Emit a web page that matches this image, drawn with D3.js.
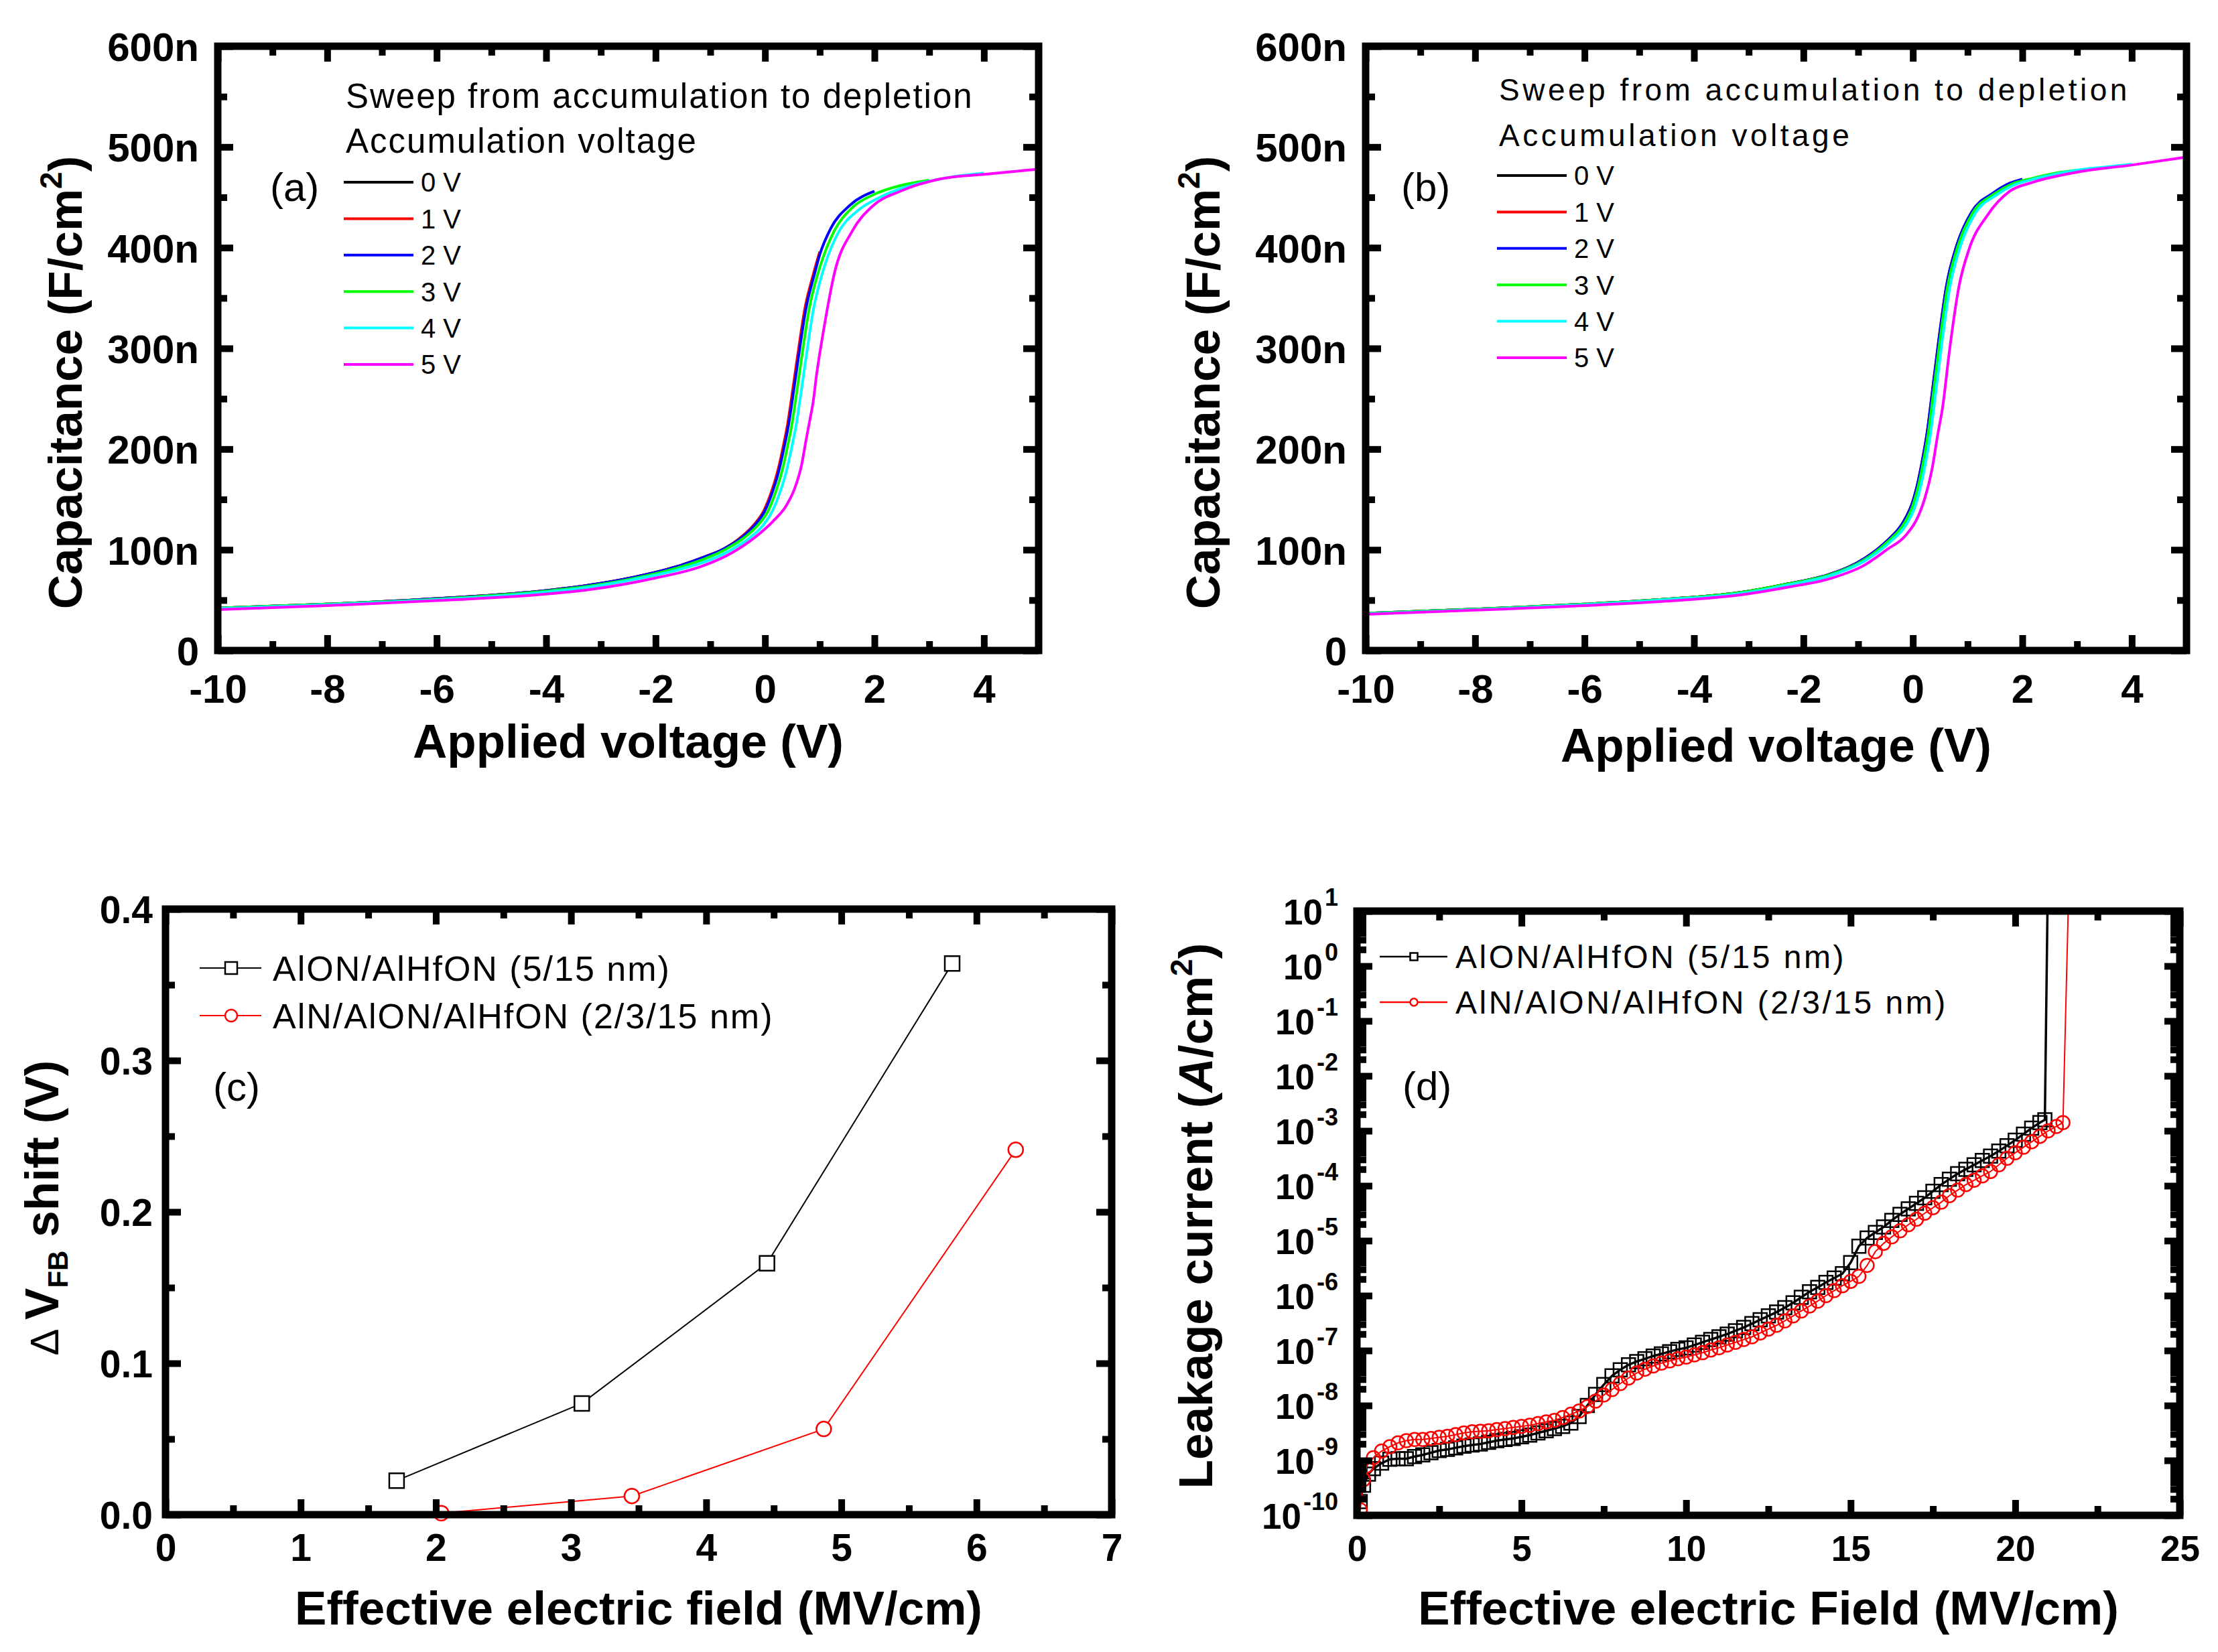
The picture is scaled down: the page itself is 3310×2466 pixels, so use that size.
<!DOCTYPE html>
<html>
<head>
<meta charset="utf-8">
<script src="https://cdn.jsdelivr.net/npm/d3@7/dist/d3.min.js"></script>
<style>
  html, body { margin: 0; padding: 0; background: #fff; }
  svg { display: block; }
</style>
</head>
<body>
<svg id="fig" width="3310" height="2466"></svg>
<script>
const FONT = '"Liberation Sans", Arial, sans-serif'

// ---- shared legend data
const accColors = ['#000000', '#ff0000', '#0000ff', '#00ff00', '#00ffff', '#ff00ff']
const accLabels = ['0 V', '1 V', '2 V', '3 V', '4 V', '5 V']

// ---- panel (a): C (nF/cm2) vs applied voltage, one sweep per accumulation voltage
const aVolt0 = [-10, -8, -6, -4, -3.2, -2.4, -1.6, -1.1, -0.75, -0.43, -0.18, 0]
const aCap0 = [42, 46, 51.5, 59.5, 65, 72.7, 83.5, 93, 101, 112, 125, 139]
const aVolt1 = [-10, -8, -6, -4, -3.2, -2.4, -1.6, -1.1, -0.75, -0.45, -0.2, -0.02, 0.12, 0.24, 0.33, 0.41, 0.48, 0.58, 0.73, 0.88, 1.0]
const aCap1 = [42, 46, 51.5, 59.5, 65, 72.7, 83.5, 93, 101, 112, 125, 139, 158, 180, 202, 224, 249, 287, 340, 373, 396]
const aVolt2 = [-10, -8, -6, -4, -3.2, -2.4, -1.6, -1.1, -0.75, -0.43, -0.18, 0, 0.14, 0.26, 0.35, 0.43, 0.5, 0.6, 0.75, 0.9, 1.0, 1.2, 1.55, 2.0]
const aCap2 = [42, 46, 51.5, 59.5, 65, 72.7, 83.5, 93, 101, 112, 125, 139, 158, 180, 202, 224, 249, 287, 340, 373, 393, 419, 442, 456]
const aVolt3 = [-10, -8, -6, -4, -3.2, -2.4, -1.6, -1.1, -0.7, -0.38, -0.12, 0.06, 0.2, 0.32, 0.41, 0.49, 0.56, 0.66, 0.81, 0.96, 1.06, 1.26, 1.6, 2.0, 2.5, 3.0]
const aCap3 = [42, 46, 51, 59, 64, 71.5, 82, 91, 101, 112, 125, 139, 158, 180, 202, 224, 249, 287, 340, 373, 390, 416, 440, 453, 462, 467]
const aVolt4 = [-10, -8, -6, -4, -3.2, -2.4, -1.6, -1.0, -0.6, -0.3, -0.04, 0.14, 0.28, 0.4, 0.49, 0.57, 0.64, 0.74, 0.89, 1.04, 1.14, 1.34, 1.7, 2.1, 2.5, 3.0, 3.5, 4.0]
const aCap4 = [41.5, 45.5, 50.5, 58, 63, 70.5, 80, 90, 100.5, 111, 124, 139, 158, 180, 202, 224, 249, 287, 340, 373, 390, 415, 437, 450, 459, 466, 471, 474]
const aVolt5 = [-10, -8, -6, -4, -3.2, -2, -1.16, -0.59, -0.18, 0.14, 0.39, 0.55, 0.67, 0.75, 0.82, 0.88, 0.94, 1.08, 1.27, 1.6, 1.96, 2.47, 3.18, 4.13, 5.0]
const aCap5 = [40.5, 44.5, 49.5, 56, 60.5, 72, 83.5, 97.5, 112.5, 128, 144, 162, 184.6, 209, 229, 247, 273, 321, 375, 417, 441, 456, 468, 473.5, 478]

// ---- panel (b)
const bVolt0 = [-10, -8, -6, -4.5, -3.1, -2.3, -1.5, -0.88, -0.47, -0.18, -0.02, 0]
const bCap0 = [37, 41, 46, 51, 58, 66, 76, 91.5, 109, 127, 145, 148]
const bVolt1 = [-10, -8, -6, -4.5, -3.1, -2.3, -1.5, -0.88, -0.47, -0.18, -0.02, 0.1, 0.18, 0.27, 0.33, 0.47, 0.61, 0.8, 1.0]
const bCap1 = [37, 41, 46, 51, 58, 66, 76, 91.5, 109, 127, 145, 169, 191, 220, 246, 307, 361, 402, 428]
const bVolt2 = [-10, -8, -6, -4.5, -3.1, -2.3, -1.5, -0.88, -0.47, -0.18, -0.02, 0.1, 0.18, 0.27, 0.33, 0.47, 0.61, 0.8, 1.08, 1.46, 1.77, 2.0]
const bCap2 = [37, 41, 46, 51, 58, 66, 76, 91.5, 109, 127, 145, 169, 191, 220, 246, 307, 361, 402, 436, 454, 464, 468]
const bVolt3 = [-10, -8, -6, -4.5, -3.1, -2.3, -1.5, -0.86, -0.45, -0.16, 0, 0.12, 0.2, 0.29, 0.35, 0.49, 0.63, 0.82, 1.1, 1.48, 1.8, 2.2, 2.6, 3.0]
const bCap3 = [37, 41, 46, 51, 58, 66, 75.5, 91, 108.5, 126, 144, 168, 190, 219, 245, 306, 360, 401, 435, 453, 463, 469, 474, 477]
const bVolt4 = [-10, -8, -6, -4.5, -3.1, -2.3, -1.5, -0.85, -0.42, -0.12, 0.04, 0.16, 0.24, 0.33, 0.39, 0.53, 0.67, 0.86, 1.14, 1.52, 1.84, 2.2, 2.6, 3.0, 3.5, 4.0]
const bCap4 = [36.5, 40.5, 45.5, 50.5, 57, 65, 74.5, 90, 107.5, 125, 143, 167, 189, 218, 244, 305, 359, 400, 434, 452, 462, 468, 473, 477, 480, 483]
const bVolt5 = [-10, -8, -6, -4.5, -3.1, -2.3, -1.5, -0.88, -0.47, -0.14, 0.1, 0.22, 0.35, 0.45, 0.55, 0.66, 0.84, 1.03, 1.36, 1.77, 2.2, 3, 4, 5]
const bCap5 = [36, 40, 44.5, 49, 55.6, 62.7, 71.6, 84.9, 100.4, 113.7, 133.6, 151.4, 180, 213, 244, 294, 361, 399, 432, 456, 465, 475, 482, 490]

// ---- panel (c): flat-band shift vs stress field
const cSeriesNames = ['AlON/AlHfON (5/15 nm)', 'AlN/AlON/AlHfON (2/3/15 nm)']
const cFieldA = [1.71, 3.08, 4.45, 5.82]
const cShiftA = [0.0225, 0.0735, 0.166, 0.364]
const cFieldB = [2.04, 3.45, 4.87, 6.29]
const cShiftB = [0.001, 0.0123, 0.0566, 0.241]

// ---- panel (d): leakage current, log10(J)
const dFieldA = [0.1, 0.2, 0.35, 0.5, 0.75, 1, 1.25, 1.5, 1.75, 2, 2.25, 2.5, 2.75, 3, 3.25, 3.5, 3.75, 4, 4.25, 4.5,
  4.75, 5, 5.25, 5.5, 5.75, 6, 6.25, 6.5, 6.75, 7, 7.25, 7.5, 7.75, 8, 8.25, 8.5, 8.75, 9, 9.25, 9.5,
  9.75, 10, 10.25, 10.5, 10.75, 11, 11.25, 11.5, 11.75, 12, 12.25, 12.5, 12.75, 13, 13.25, 13.5, 13.75, 14, 14.25, 14.5,
  14.75, 15, 15.25, 15.5, 15.75, 16, 16.25, 16.5, 16.75, 17, 17.25, 17.5, 17.75, 18, 18.25, 18.5, 18.75, 19, 19.25, 19.5,
  19.75, 20, 20.25, 20.5, 20.75, 20.9, 21.0]
const dLogJA = [-9.75, -9.45, -9.25, -9.15, -9.05, -8.98, -8.97, -8.97, -8.93, -8.9, -8.86, -8.82, -8.8, -8.77, -8.74, -8.72, -8.7, -8.67, -8.64, -8.62,
  -8.6, -8.57, -8.54, -8.5, -8.46, -8.42, -8.38, -8.32, -8.2, -8.0, -7.8, -7.62, -7.46, -7.35, -7.26, -7.2, -7.15, -7.1, -7.06, -7.02,
  -6.98, -6.95, -6.9, -6.85, -6.8, -6.75, -6.7, -6.64, -6.58, -6.51, -6.44, -6.37, -6.3, -6.22, -6.13, -6.03, -5.93, -5.85, -5.76, -5.68,
  -5.6, -5.4, -5.1, -4.95, -4.85, -4.75, -4.63, -4.52, -4.42, -4.32, -4.22, -4.1, -3.98, -3.88, -3.78, -3.7, -3.62, -3.54, -3.46, -3.37,
  -3.27, -3.17, -3.06, -2.95, -2.85, -2.8, 2]
const dFieldB = [0.1, 0.2, 0.3, 0.5, 0.75, 1, 1.25, 1.5, 1.75, 2, 2.25, 2.5, 2.75, 3, 3.25, 3.5, 3.75, 4, 4.25, 4.5,
  4.75, 5, 5.25, 5.5, 5.75, 6, 6.25, 6.5, 6.75, 7, 7.25, 7.5, 7.75, 8, 8.25, 8.5, 8.75, 9, 9.25, 9.5,
  9.75, 10, 10.25, 10.5, 10.75, 11, 11.25, 11.5, 11.75, 12, 12.25, 12.5, 12.75, 13, 13.25, 13.5, 13.75, 14, 14.25, 14.5,
  14.75, 15, 15.25, 15.5, 15.75, 16, 16.25, 16.5, 16.75, 17, 17.25, 17.5, 17.75, 18, 18.25, 18.5, 18.75, 19, 19.25, 19.5,
  19.75, 20, 20.25, 20.5, 20.75, 21, 21.25, 21.45, 21.65]
const dLogJB = [-9.9, -9.35, -9.1, -8.95, -8.83, -8.75, -8.68, -8.64, -8.62, -8.62, -8.6, -8.58, -8.56, -8.53, -8.5, -8.48, -8.47, -8.46, -8.44, -8.42,
  -8.4, -8.38, -8.36, -8.33, -8.3, -8.27, -8.22, -8.16, -8.1, -8.02, -7.92, -7.81, -7.71, -7.6, -7.5, -7.41, -7.34, -7.28, -7.23, -7.19,
  -7.15, -7.12, -7.08, -7.04, -6.99, -6.95, -6.9, -6.85, -6.8, -6.75, -6.68, -6.61, -6.54, -6.46, -6.37, -6.28, -6.19, -6.1, -6.0, -5.91,
  -5.82, -5.74, -5.65, -5.45, -5.2, -5.05, -4.93, -4.82, -4.71, -4.61, -4.5, -4.4, -4.3, -4.18, -4.08, -3.98, -3.9, -3.82, -3.74, -3.62,
  -3.5, -3.4, -3.3, -3.2, -3.1, -3.0, -2.92, -2.85, 2]

// ---- ticks
const cvXMajor = [-10, -8, -6, -4, -2, 0, 2, 4]
const cvXMinor = [-9, -7, -5, -3, -1, 1, 3]
const cvYMajor = [0, 100, 200, 300, 400, 500, 600]
const cvYMinor = [50, 150, 250, 350, 450, 550]
const cXMajor = [0, 1, 2, 3, 4, 5, 6, 7]
const cXMinor = [0.5, 1.5, 2.5, 3.5, 4.5, 5.5, 6.5]
const cYMajor = [0, 0.1, 0.2, 0.3, 0.4]
const cYMinor = [0.05, 0.15, 0.25, 0.35]
const dXMajor = [0, 5, 10, 15, 20, 25]
const dXMinor = [2.5, 7.5, 12.5, 17.5, 22.5]
const dYMajor = [1e-10, 1e-9, 1e-8, 1e-7, 1e-6, 1e-5, 1e-4, 1e-3, 1e-2, 1e-1, 1e0, 1e1]

const svg = d3.select('#fig')
const defs = svg.append('defs')

function drawAxes(id, box, x, y, cfg) {
  const g = svg.append('g')
  const put = (axis, dx, dy, values, len, fmt) => {
    const a = g.append('g')
      .attr('transform', `translate(${dx},${dy})`)
      .call(axis.tickValues(values).tickSizeInner(-len).tickSizeOuter(0).tickFormat(fmt || (() => '')))
    a.select('.domain').remove()
    a.selectAll('.tick line').attr('stroke', '#000').attr('stroke-width', 10)
    a.attr('font-family', FONT).attr('font-size', cfg.tickFont).attr('font-weight', 'bold')
    a.selectAll('text').attr('fill', '#000')
    return a
  }
  const bottom = put(d3.axisBottom(x), 0, box.b, cfg.xMajor, 23, cfg.xFmt)
  bottom.selectAll('text').attr('dy', null).attr('y', cfg.xLabelOffset)
  put(d3.axisBottom(x), 0, box.b, cfg.xMinor, 14)
  put(d3.axisTop(x), 0, box.t, cfg.xMajor, 23)
  put(d3.axisTop(x), 0, box.t, cfg.xMinor, 14)
  const left = put(d3.axisLeft(y), box.l, 0, cfg.yMajor, 23, cfg.yFmt)
  left.selectAll('text').attr('x', -cfg.yLabelPad).attr('dy', '0.36em')
  put(d3.axisLeft(y), box.l, 0, cfg.yMinor, 14)
  put(d3.axisRight(y), box.r, 0, cfg.yMajor, 23)
  put(d3.axisRight(y), box.r, 0, cfg.yMinor, 14)
  g.append('rect')
    .attr('x', box.l).attr('y', box.t)
    .attr('width', box.r - box.l).attr('height', box.b - box.t)
    .attr('fill', 'none').attr('stroke', '#000').attr('stroke-width', 11)
  defs.append('clipPath').attr('id', id)
    .append('rect')
    .attr('x', box.l).attr('y', box.t)
    .attr('width', box.r - box.l).attr('height', box.b - box.t)
  return left
}

function xTitle(cx, baseline, txt) {
  svg.append('text')
    .attr('x', cx).attr('y', baseline)
    .attr('text-anchor', 'middle')
    .attr('font-family', FONT).attr('font-size', 71).attr('font-weight', 'bold')
    .text(txt)
}

function yTitle(bx, cy) {
  return svg.append('text')
    .attr('transform', `translate(${bx},${cy}) rotate(-90)`)
    .attr('text-anchor', 'middle')
    .attr('font-family', FONT).attr('font-size', 71).attr('font-weight', 'bold')
}

function plainText(x, y, size, txt, spacing) {
  svg.append('text')
    .attr('x', x).attr('y', y)
    .attr('font-family', FONT).attr('font-size', size)
    .attr('letter-spacing', spacing || 0)
    .text(txt)
}

// ================= C-V panels (a) and (b)
function cvPanel(id, box, sets, leg, letter) {
  const x = d3.scaleLinear().domain([-10, 5]).range([box.l, box.r])
  const y = d3.scaleLinear().domain([0, 600]).range([box.b, box.t])
  const line = d3.line().x(d => x(d[0])).y(d => y(d[1])).curve(d3.curveMonotoneX)

  const plot = svg.append('g').attr('clip-path', `url(#${id})`)
  sets.forEach((s, i) => {
    plot.append('path')
      .datum(d3.zip(s[0], s[1]))
      .attr('fill', 'none')
      .attr('stroke', accColors[i])
      .attr('stroke-width', 4)
      .attr('d', line)
  })

  drawAxes(id, box, x, y, {
    xMajor: cvXMajor, xMinor: cvXMinor, yMajor: cvYMajor, yMinor: cvYMinor,
    xFmt: d => String(d), yFmt: d => (d === 0 ? '0' : d + 'n'),
    tickFont: 60, xLabelOffset: 78, yLabelPad: 28
  })

  plainText(leg.x, leg.y0, leg.headFont, 'Sweep from accumulation to depletion', leg.spacing)
  plainText(leg.x, leg.y1, leg.headFont, 'Accumulation voltage', leg.spacing)
  accLabels.forEach((lab, i) => {
    const ly = leg.rowY + i * 54.4
    svg.append('line')
      .attr('x1', leg.x - 3).attr('x2', leg.x + 101)
      .attr('y1', ly).attr('y2', ly)
      .attr('stroke', accColors[i]).attr('stroke-width', 4)
    svg.append('text')
      .attr('x', leg.x + 112).attr('y', ly)
      .attr('dy', '0.36em')
      .attr('font-family', FONT).attr('font-size', 40)
      .text(lab)
  })
  plainText(letter.x, letter.y, 60, letter.t)
}

const boxA = { l: 325, r: 1550, t: 69, b: 971 }
const boxB = { l: 2038, r: 3263, t: 69, b: 971 }

cvPanel('clipA', boxA,
  [[aVolt0, aCap0], [aVolt1, aCap1], [aVolt2, aCap2], [aVolt3, aCap3], [aVolt4, aCap4], [aVolt5, aCap5]],
  { x: 516, y0: 161, y1: 228, rowY: 272, headFont: 51, spacing: 2 },
  { x: 403, y: 300, t: '(a)' })

cvPanel('clipB', boxB,
  [[bVolt0, bCap0], [bVolt1, bCap1], [bVolt2, bCap2], [bVolt3, bCap3], [bVolt4, bCap4], [bVolt5, bCap5]],
  { x: 2237, y0: 150, y1: 218, rowY: 262, headFont: 46, spacing: 4.5 },
  { x: 2091, y: 300, t: '(b)' })

xTitle((boxA.l + boxA.r) / 2, 1131, 'Applied voltage (V)')
xTitle((boxB.l + boxB.r) / 2, 1137, 'Applied voltage (V)')

for (const bx of [122, 1820]) {
  const t = yTitle(bx, 571)
  t.append('tspan').text('Capacitance (F/cm')
  t.append('tspan').attr('font-size', 46).attr('dy', -30).text('2')
  t.append('tspan').attr('dy', 30).text(')')
}

// ================= panel (c)
const boxC = { l: 247, r: 1659, t: 1357, b: 2261 }
{
  const x = d3.scaleLinear().domain([0, 7]).range([boxC.l, boxC.r])
  const y = d3.scaleLinear().domain([0, 0.4]).range([boxC.b, boxC.t])
  const line = d3.line().x(d => x(d[0])).y(d => y(d[1]))
  const sq = d3.symbol(d3.symbolSquare, 22 * 22)()
  const ci = d3.symbol(d3.symbolCircle, Math.PI * 11 * 11)()

  const plot = svg.append('g')
  const series = [
    { data: d3.zip(cFieldA, cShiftA), color: '#000000', shape: sq },
    { data: d3.zip(cFieldB, cShiftB), color: '#ff0000', shape: ci }
  ]
  series.forEach(s => {
    plot.append('path').datum(s.data)
      .attr('fill', 'none').attr('stroke', s.color).attr('stroke-width', 2).attr('d', line)
    plot.selectAll(null).data(s.data).enter().append('path')
      .attr('transform', d => `translate(${x(d[0])},${y(d[1])})`)
      .attr('d', s.shape)
      .attr('fill', '#fff').attr('stroke', s.color).attr('stroke-width', 2.5)
  })

  drawAxes('clipC', boxC, x, y, {
    xMajor: cXMajor, xMinor: cXMinor, yMajor: cYMajor, yMinor: cYMinor,
    xFmt: d => String(d), yFmt: d3.format('.1f'),
    tickFont: 57, xLabelOffset: 69, yLabelPad: 19
  })

  const legSq = d3.symbol(d3.symbolSquare, 18 * 18)()
  const legCi = d3.symbol(d3.symbolCircle, Math.PI * 9 * 9)()
  ;[[1445, '#000000', legSq], [1516, '#ff0000', legCi]].forEach((row, i) => {
    svg.append('line').attr('x1', 298).attr('x2', 390).attr('y1', row[0]).attr('y2', row[0])
      .attr('stroke', row[1]).attr('stroke-width', 2)
    svg.append('path').attr('transform', `translate(345,${row[0]})`).attr('d', row[2])
      .attr('fill', '#fff').attr('stroke', row[1]).attr('stroke-width', 2.5)
    svg.append('text').attr('x', 407).attr('y', row[0]).attr('dy', '0.36em')
      .attr('font-family', FONT).attr('font-size', 52).attr('letter-spacing', 2)
      .text(cSeriesNames[i])
  })
  plainText(318, 1643, 60, '(c)')

  xTitle((boxC.l + boxC.r) / 2, 2425, 'Effective electric field (MV/cm)')
  const t = yTitle(87, 1803)
  t.append('tspan').attr('font-weight', 'normal').attr('font-size', 60).text('\u0394 ')
  t.append('tspan').text('V')
  t.append('tspan').attr('font-size', 42).attr('dy', 14).text('FB')
  t.append('tspan').attr('dy', -14).text(' shift (V)')
}

// ================= panel (d)
const boxD = { l: 2025, r: 3253, t: 1360, b: 2262 }
{
  const x = d3.scaleLinear().domain([0, 25]).range([boxD.l, boxD.r])
  const y = d3.scaleLog().domain([1e-10, 1e1]).range([boxD.b, boxD.t])
  const line = d3.line().x(d => x(d[0])).y(d => y(d[1]))
  const sq = d3.symbol(d3.symbolSquare, 20 * 20)()
  const ci = d3.symbol(d3.symbolCircle, Math.PI * 10 * 10)()

  const toJ = (fields, logs) => d3.zip(fields, logs).map(([e, lj]) => [e, Math.pow(10, lj)])
  const plot = svg.append('g').attr('clip-path', 'url(#clipD)')
  const series = [
    { data: toJ(dFieldA, dLogJA), color: '#000000', shape: sq, lw: 3.5 },
    { data: toJ(dFieldB, dLogJB), color: '#ff0000', shape: ci, lw: 2 }
  ]

  const yMinor = []
  for (let k = -10; k < 1; k++) {
    for (let m = 2; m <= 9; m++) yMinor.push(m * Math.pow(10, k))
  }

  const left = drawAxes('clipD', boxD, x, y, {
    xMajor: dXMajor, xMinor: dXMinor, yMajor: dYMajor, yMinor: yMinor,
    xFmt: d => String(d), yFmt: d => String(d),
    tickFont: 53, xLabelOffset: 68, yLabelPad: 28
  })
  left.selectAll('.tick text').each(function (d) {
    const t = d3.select(this).text(null)
    t.append('tspan').text('10')
    t.append('tspan').attr('font-size', 36).attr('dx', 3).attr('dy', -28).text(Math.round(Math.log10(d)))
  })

  series.forEach(s => {
    plot.append('path').datum(s.data)
      .attr('fill', 'none').attr('stroke', s.color).attr('stroke-width', s.lw).attr('d', line)
    plot.selectAll(null).data(s.data.slice(0, -1)).enter().append('path')
      .attr('transform', d => `translate(${x(d[0])},${y(d[1])})`)
      .attr('d', s.shape)
      .attr('fill', 'none').attr('stroke', s.color).attr('stroke-width', 2.5)
  })

  const legSq = d3.symbol(d3.symbolSquare, 11 * 11)()
  const legCi = d3.symbol(d3.symbolCircle, Math.PI * 5.5 * 5.5)()
  ;[[1428, '#000000', legSq], [1496, '#ff0000', legCi]].forEach((row, i) => {
    svg.append('line').attr('x1', 2059).attr('x2', 2160).attr('y1', row[0]).attr('y2', row[0])
      .attr('stroke', row[1]).attr('stroke-width', 2.5)
    svg.append('path').attr('transform', `translate(2110,${row[0]})`).attr('d', row[2])
      .attr('fill', '#fff').attr('stroke', row[1]).attr('stroke-width', 2.5)
    svg.append('text').attr('x', 2172).attr('y', row[0]).attr('dy', '0.36em')
      .attr('font-family', FONT).attr('font-size', 48).attr('letter-spacing', 3.5)
      .text(cSeriesNames[i])
  })
  plainText(2093, 1642, 60, '(d)')

  xTitle((boxD.l + boxD.r) / 2, 2425, 'Effective electric Field (MV/cm)')
  const t = yTitle(1809, 1815)
  t.append('tspan').text('Leakage current (')
  t.append('tspan').attr('font-style', 'italic').text('A')
  t.append('tspan').text('/cm')
  t.append('tspan').attr('font-size', 46).attr('dy', -30).text('2')
  t.append('tspan').attr('dy', 30).text(')')
}
</script>
</body>
</html>
